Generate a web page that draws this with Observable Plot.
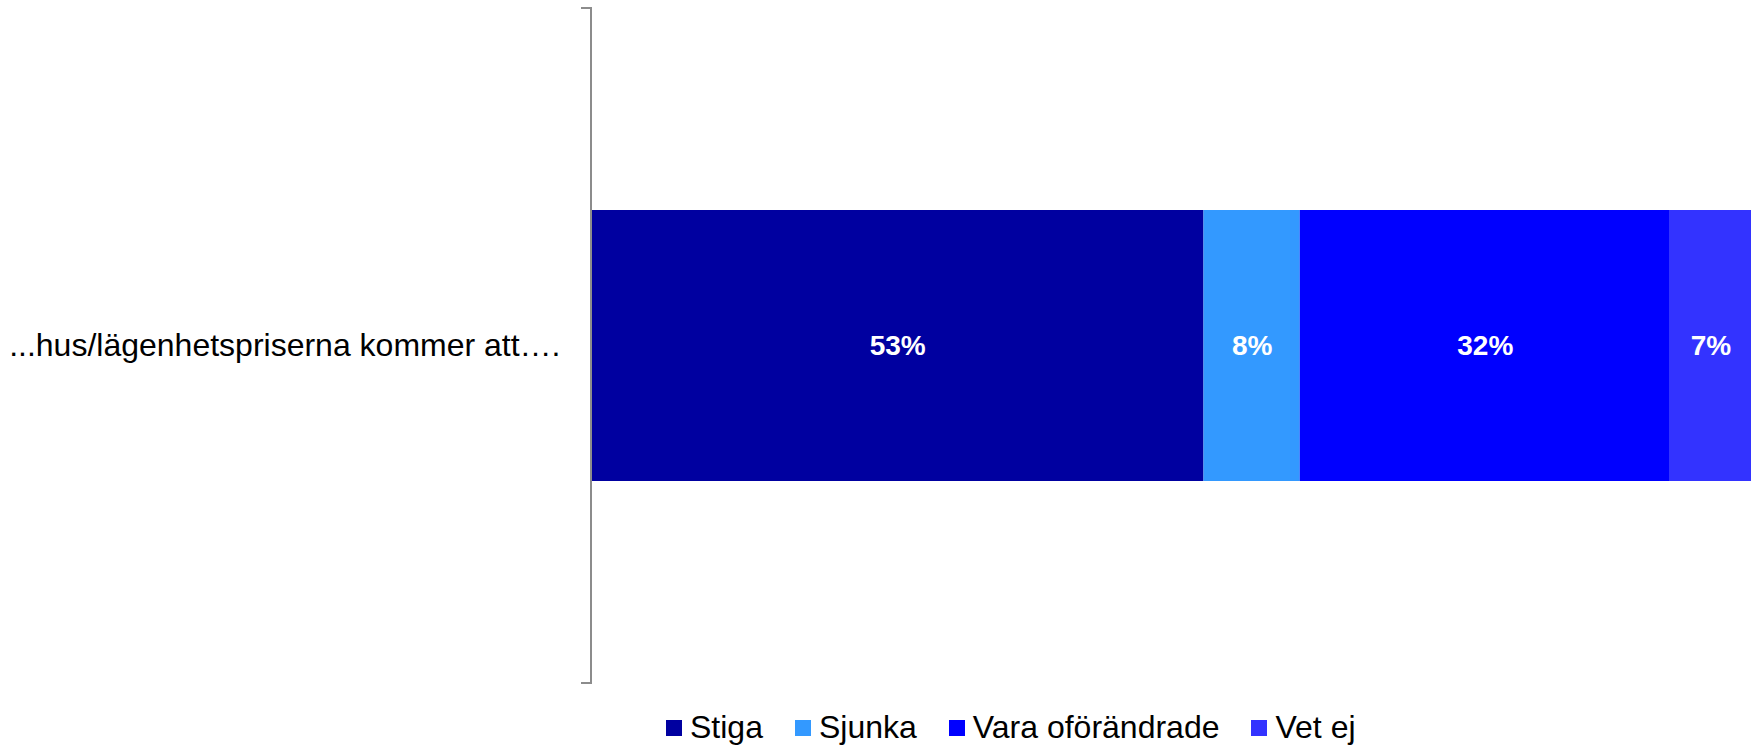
<!DOCTYPE html>
<html>
<head>
<meta charset="utf-8">
<script src="https://cdn.jsdelivr.net/npm/d3@7"></script>
<script src="https://cdn.jsdelivr.net/npm/@observablehq/plot@0.6"></script>
<style>
  html, body { margin: 0; padding: 0; background: #fff; }
  body { width: 1752px; height: 745px; overflow: hidden; font-family: "Liberation Sans", Arial, sans-serif; }
  #legend { display: flex; align-items: center; padding-left: 666px; height: 40px; margin-top: 2px; font-size: 32px; color: #000; }
  #legend .item { display: flex; align-items: center; margin-right: 32px; }
  #legend .sw { width: 16px; height: 16px; margin-right: 8px; margin-top: 2px; }
</style>
</head>
<body>
<div id="chart"></div>
<div id="legend"></div>
<script>
const category = ["...hus/lägenhetspriserna kommer att…."];
const series = ["Stiga", "Sjunka", "Vara oförändrade", "Vet ej"];
const values = [52.8, 8.3, 31.9, 7.0];
const labels = ["53%", "8%", "32%", "7%"];
const colors = ["#0000A0", "#3399FF", "#0000FF", "#3333FF"];

const data = series.map((s, i) => ({cat: category[0], series: s, value: values[i], label: labels[i]}));

const bracket = (index, scales, values, dimensions) => {
  const {marginLeft, marginTop, height, marginBottom} = dimensions;
  const g = d3.create("svg:path")
    .attr("fill", "none")
    .attr("stroke", "#8c8c8c")
    .attr("stroke-width", 2)
    .attr("d", `M${marginLeft - 10},${marginTop}H${marginLeft}V${height - marginBottom}H${marginLeft - 10}`);
  return g.node();
};

const plot = Plot.plot({
  width: 1752,
  height: 705,
  marginLeft: 591,
  marginRight: 1,
  marginTop: 8,
  marginBottom: 22,
  style: {fontFamily: "'Liberation Sans', Arial, sans-serif", background: "#fff"},
  x: {domain: [0, 100], axis: null},
  y: {domain: category, padding: 0.427, label: null},
  color: {domain: series, range: colors},
  marks: [
    Plot.barX(data, Plot.stackX({x: "value", y: "cat", z: "series", fill: "series", order: series})),
    Plot.text(data, Plot.stackX({x: "value", y: "cat", z: "series", text: "label", order: series,
      fill: "white", fontWeight: "bold", fontSize: 28})),
    Plot.axisY({tickSize: 0, tickPadding: 31, fontSize: 32, fill: "#000", label: null}),
    bracket
  ]
});
document.getElementById("chart").appendChild(plot);

const legend = document.getElementById("legend");
series.forEach((s, i) => {
  const it = document.createElement("div");
  it.className = "item";
  const sw = document.createElement("div");
  sw.className = "sw";
  sw.style.background = colors[i];
  const t = document.createElement("span");
  t.textContent = s;
  it.appendChild(sw);
  it.appendChild(t);
  legend.appendChild(it);
});
</script>
</body>
</html>
